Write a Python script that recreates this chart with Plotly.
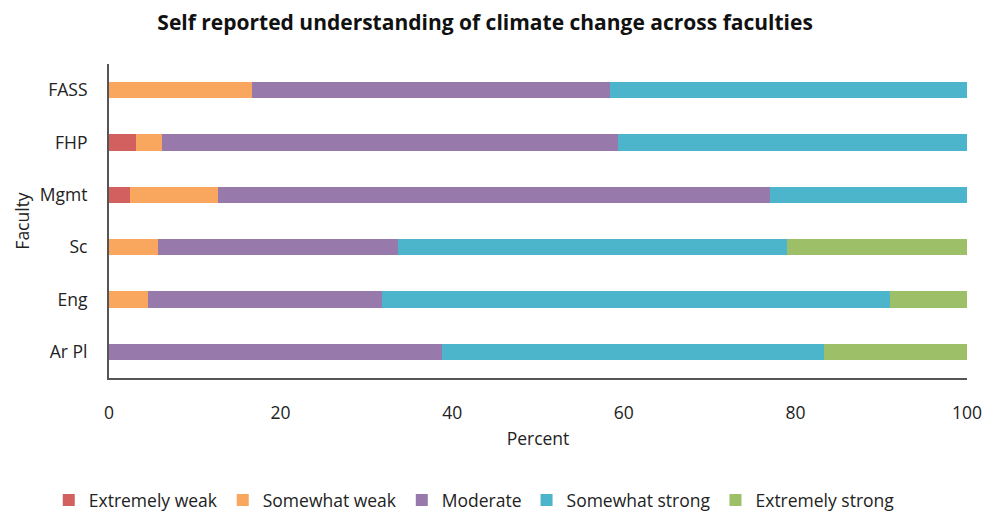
import plotly.graph_objects as go

faculties = ["FASS", "FHP", "Mgmt", "Sc", "Eng", "Ar Pl"]
extremely_weak = [0, 3.1, 2.4, 0, 0, 0]
somewhat_weak = [16.7, 3.1, 10.3, 5.7, 4.5, 0]
moderate = [41.7, 53.1, 64.3, 28.0, 27.3, 38.8]
somewhat_strong = [41.6, 40.7, 23.0, 45.3, 59.2, 44.5]
extremely_strong = [0, 0, 0, 21.0, 9.0, 16.7]

series = [
    ("Extremely weak", extremely_weak, "#D2605E"),
    ("Somewhat weak", somewhat_weak, "#F9A65E"),
    ("Moderate", moderate, "#9779AC"),
    ("Somewhat strong", somewhat_strong, "#4CB5CC"),
    ("Extremely strong", extremely_strong, "#9DBF67"),
]

font_family = "'Open Sans', Lato, sans-serif"
text_size = 17.5

fig = go.Figure()
for name, vals, color in series:
    fig.add_trace(go.Bar(
        y=faculties, x=vals, name=name, orientation="h",
        marker=dict(color=color, line=dict(width=0)),
        width=0.31,
    ))

fig.update_layout(
    barmode="stack",
    width=986, height=514,
    paper_bgcolor="white", plot_bgcolor="white",
    margin=dict(l=109, r=19, t=64, b=136),
    font=dict(family=font_family, size=text_size, color="#222222"),
    title=dict(
        text="<b>Self reported understanding of climate change across faculties</b>",
        x=0.492, xanchor="center", y=0.955, yanchor="middle",
        font=dict(size=21, color="#111111"),
    ),
    xaxis=dict(
        range=[0, 100], tickvals=[0, 20, 40, 60, 80, 100],
        showgrid=False, zeroline=False, automargin=False,
        showline=True, linecolor="#555555", linewidth=2,
        ticks="", tickfont=dict(size=text_size), ticklabelstandoff=18,
        title=dict(text="Percent", font=dict(size=text_size), standoff=10),
    ),
    yaxis=dict(
        categoryorder="array", categoryarray=faculties[::-1],
        range=[-0.5, 5.5],
        showgrid=False, zeroline=False, automargin=False,
        showline=True, linecolor="#555555", linewidth=2,
        ticks="", tickfont=dict(size=text_size), ticklabelstandoff=16,
        title=dict(text="Faculty", font=dict(size=text_size), standoff=6),
    ),
    legend=dict(
        orientation="h", xref="container", yref="container",
        x=0.481, xanchor="center", y=0.027, yanchor="middle",
        font=dict(size=text_size), traceorder="normal", itemwidth=30,
    ),
    bargap=0.69,
)

fig.write_html("out.html")
